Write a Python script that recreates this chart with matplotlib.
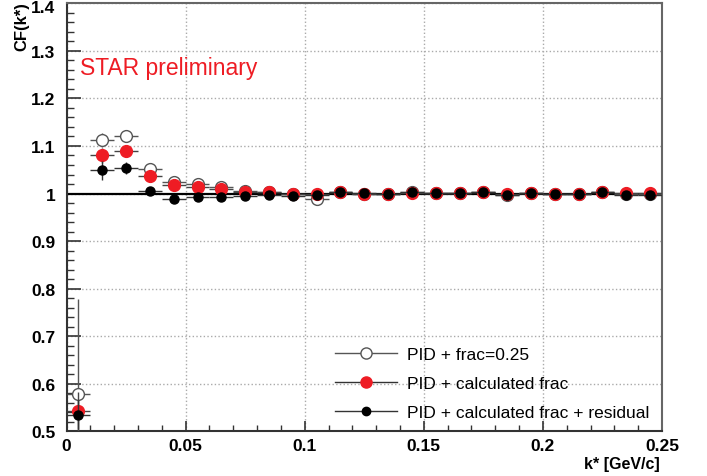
import numpy as np
import matplotlib
matplotlib.use('Agg')
import matplotlib.pyplot as plt
import matplotlib.transforms as mtransforms
from matplotlib.lines import Line2D
from matplotlib.ticker import MultipleLocator, FuncFormatter

plt.rcParams['font.family'] = ['Liberation Sans', 'DejaVu Sans']

# bin centres of k* [GeV/c]
kstar = [0.005, 0.015, 0.025, 0.035, 0.045, 0.055, 0.065, 0.075, 0.085, 0.095,
         0.105, 0.115, 0.125, 0.135, 0.145, 0.155, 0.165, 0.175, 0.185, 0.195,
         0.205, 0.215, 0.225, 0.235, 0.245]
half_bin = 0.005

# PID + frac=0.25 (open circles)
cf_frac = [0.578, 1.113, 1.121, 1.051, 1.024, 1.019, 1.013, 1.006, 1.004, 0.998,
           0.988, 1.003, 1.000, 1.000, 1.003, 1.002, 1.002, 1.003, 0.997, 1.001,
           1.000, 0.998, 1.004, 1.000, 0.999]
err_frac = [0.200, 0.015, 0.012, 0.008, 0.006, 0.005, 0.004, 0.004, 0.004, 0.004,
            0.004, 0.004, 0.004, 0.004, 0.004, 0.004, 0.004, 0.004, 0.004, 0.004,
            0.004, 0.004, 0.004, 0.004, 0.004]

# PID + calculated frac (red)
cf_calc = [0.543, 1.080, 1.090, 1.037, 1.017, 1.013, 1.010, 1.004, 1.004, 0.998,
           0.998, 1.003, 0.999, 1.000, 1.002, 1.002, 1.002, 1.003, 0.998, 1.002,
           1.000, 0.999, 1.004, 1.002, 1.002]
err_calc = [0.040, 0.015, 0.012, 0.008, 0.006, 0.005, 0.004, 0.004, 0.004, 0.004,
            0.004, 0.004, 0.004, 0.004, 0.004, 0.004, 0.004, 0.004, 0.004, 0.004,
            0.004, 0.004, 0.004, 0.004, 0.004]

# PID + calculated frac + residual (black)
cf_resid = [0.535, 1.049, 1.054, 1.005, 0.988, 0.992, 0.993, 0.995, 0.997, 0.995,
            0.996, 1.003, 1.001, 1.000, 1.004, 1.002, 1.002, 1.003, 0.997, 1.002,
            1.000, 0.998, 1.004, 0.996, 0.996]
err_resid = [0.030, 0.020, 0.012, 0.008, 0.006, 0.005, 0.004, 0.004, 0.004, 0.004,
             0.004, 0.004, 0.004, 0.004, 0.004, 0.004, 0.004, 0.004, 0.004, 0.004,
             0.004, 0.004, 0.004, 0.004, 0.004]

labels = ['PID + frac=0.25', 'PID + calculated frac', 'PID + calculated frac + residual']
red = '#ee1c24'

fig = plt.figure(figsize=(7.07, 4.77), dpi=100)
ax = fig.add_axes([66.5/707, 1-432.3/477, (662-66.5)/707, (432.3-4.3)/477])

ax.axhline(1.0, color='black', lw=1.6, zorder=2)

ax.errorbar(kstar, cf_frac, yerr=err_frac, xerr=half_bin, fmt='o', ms=8.5,
            mfc='white', mec='#555555', mew=1.0, ecolor='#555555', elinewidth=1.0,
            capsize=0, zorder=3)
ax.errorbar(kstar, cf_calc, yerr=err_calc, xerr=half_bin, fmt='o', ms=8.5,
            mfc=red, mec=red, ecolor='#444444', elinewidth=1.0,
            capsize=0, zorder=4)
ax.errorbar(kstar, cf_resid, yerr=err_resid, xerr=half_bin, fmt='o', ms=6.5,
            mfc='black', mec='black', ecolor='#333333', elinewidth=1.0,
            capsize=0, zorder=5)

ax.set_xlim(0, 0.25)
ax.set_ylim(0.5, 1.4)
ax.xaxis.set_major_locator(MultipleLocator(0.05))
ax.xaxis.set_minor_locator(MultipleLocator(0.01))
ax.yaxis.set_major_locator(MultipleLocator(0.1))
ax.yaxis.set_minor_locator(MultipleLocator(0.02))
fmt = FuncFormatter(lambda v, p: '%g' % round(v, 3))
ax.xaxis.set_major_formatter(fmt)
ax.yaxis.set_major_formatter(fmt)

ax.grid(True, which='major', color='#aaaaaa', linestyle=':', lw=1.0)
ax.set_axisbelow(True)

ax.tick_params(axis='both', which='both', direction='in', top=False, right=False,
               labelsize=12.5, color='#333333')
ax.tick_params(axis='y', which='major', length=10, width=1.2, pad=8)
ax.tick_params(axis='y', which='minor', length=5, width=1.0)
ax.tick_params(axis='x', which='major', length=7, width=1.2, pad=5)
ax.tick_params(axis='x', which='minor', length=4, width=1.0)
fig.canvas.draw()
for t in ax.get_xticklabels() + ax.get_yticklabels():
    t.set_fontweight('bold')
# top label sits right at the figure edge; nudge it down a little
shift = mtransforms.ScaledTranslation(0, -3/100, fig.dpi_scale_trans)
for t in ax.get_yticklabels():
    if t.get_text() == '1.4':
        t.set_transform(t.get_transform() + shift)

for s in ax.spines.values():
    s.set_linewidth(1.5)
    s.set_color('#333333')
ax.spines['top'].set_color('#666666')
ax.spines['right'].set_color('#666666')

fig.text(0.031, 0.995, 'CF(k*)', rotation=90, ha='center', va='top',
         fontsize=12, fontweight='bold')
fig.text(660/707, 1-465/477, 'k* [GeV/c]', ha='right', va='center',
         fontsize=11.5, fontweight='bold')

ax.text(0.0055, 1.264, 'STAR preliminary', color=red, fontsize=16.5, ha='left', va='center')

handles = [
    Line2D([], [], color='#555555', lw=1.0, marker='o', ms=8, mfc='white', mec='#555555'),
    Line2D([], [], color='#333333', lw=1.0, marker='o', ms=8, mfc=red, mec=red),
    Line2D([], [], color='#333333', lw=1.0, marker='o', ms=6, mfc='black', mec='black'),
]
ax.legend(handles, labels, loc='lower right', bbox_to_anchor=(1.0, -0.002),
          frameon=False, fontsize=12.5, handlelength=3.6, handletextpad=0.6,
          labelspacing=0.8, borderaxespad=0.3)

fig.savefig('out.png', dpi=100)
